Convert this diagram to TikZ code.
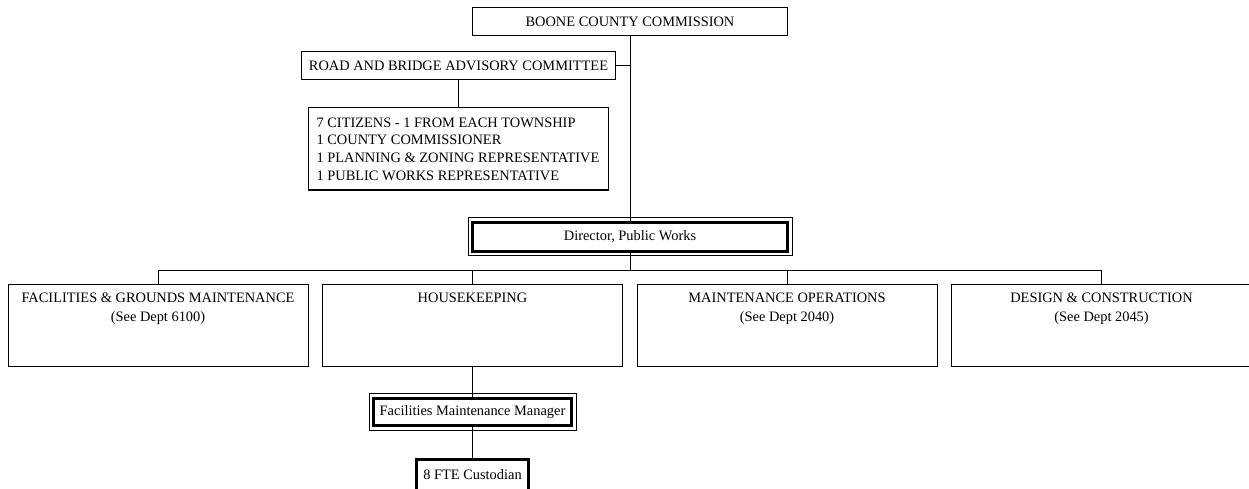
\documentclass[tikz,border=0pt]{standalone}
\usepackage{fontspec}
\setmainfont{Liberation Serif}
\begin{document}
\begin{tikzpicture}[x=1pt,y=-1pt,
  font=\fontsize{14.4}{19.4}\selectfont,
  box/.style={draw, line width=1pt, inner sep=0pt, outer sep=0pt},
  heavybox/.style={draw, line width=3pt, inner sep=0pt, outer sep=0pt},
  conn/.style={line width=1pt},
  txt/.style={inner sep=0pt, outer sep=0pt, align=center}]
\useasboundingbox (0,0) rectangle (1249,489);

% top part
\node[box, minimum width=315pt, minimum height=28pt] (boone) at (630,22) {BOONE COUNTY COMMISSION};
\node[box, minimum width=314pt, minimum height=28pt] (road) at (458.5,66) {ROAD AND BRIDGE ADVISORY COMMITTEE};
\node[box, minimum width=300pt, minimum height=82pt, align=left,
      font=\fontsize{14.4}{17.7}\selectfont] (cit) at (458,149)
  {7 CITIZENS - 1 FROM EACH TOWNSHIP\\1 COUNTY COMMISSIONER\\1 PLANNING \& ZONING REPRESENTATIVE\\1 PUBLIC WORKS REPRESENTATIVE};

% director (double frame)
\node[heavybox, minimum width=315pt, minimum height=29pt] (dir) at (630,236.7) {Director, Public Works};
\draw[conn] ([shift={(-4.5,-4.5)}]dir.north west) rectangle ([shift={(4.5,4.5)}]dir.south east);

% lower boxes
\node[box, minimum width=300pt, minimum height=82pt] (fac) at (158,325) {};
\node[box, minimum width=300pt, minimum height=82pt] (hk) at (472.5,325) {};
\node[box, minimum width=300pt, minimum height=82pt] (mo) at (787,325) {};
\node[box, minimum width=300pt, minimum height=82pt] (dc) at (1101.5,325) {};
\node[txt, anchor=north] (facT) at ([yshift=-9pt]fac.north) {FACILITIES \& GROUNDS MAINTENANCE\\(See Dept 6100)};
\node[txt, anchor=north] (hkT) at ([yshift=-9pt]hk.north) {HOUSEKEEPING};
\node[txt, anchor=north] (moT) at ([yshift=-9pt]mo.north) {MAINTENANCE OPERATIONS\\(See Dept 2040)};
\node[txt, anchor=north] (dcT) at ([yshift=-9pt]dc.north) {DESIGN \& CONSTRUCTION\\(See Dept 2045)};

% manager (double frame) and custodian
\node[heavybox, minimum width=198pt, minimum height=27.6pt] (mgr) at (472.5,412) {Facilities Maintenance Manager};
\draw[conn] ([shift={(-4.5,-4.5)}]mgr.north west) rectangle ([shift={(4.5,4.5)}]mgr.south east);
\node[heavybox, minimum width=112pt, minimum height=33pt] (cust) at (472.5,476) {};
\node[txt] (custT) at (472.5,474.5) {8 FTE Custodian};

% connectors
\draw[conn] (boone.south) -- (dir.north);
\draw[conn] (road.east) -- (road.east -| boone.south);
\draw[conn] (road.south) -- (road.south |- cit.north);
\coordinate (busL) at (158,270.5);
\coordinate (busR) at (1101.5,270.5);
\draw[conn] (busL) -- (busR);
\draw[conn] (dir.south) -- (dir.south |- busL);
\draw[conn] (fac.north) -- (busL);
\draw[conn] (hk.north) -- (hk.north |- busL);
\draw[conn] (mo.north) -- (mo.north |- busL);
\draw[conn] (dc.north) -- (busR);
\draw[conn] (hk.south) -- (mgr.north);
\draw[conn] (mgr.south) -- (cust.north);
\end{tikzpicture}
\end{document}
